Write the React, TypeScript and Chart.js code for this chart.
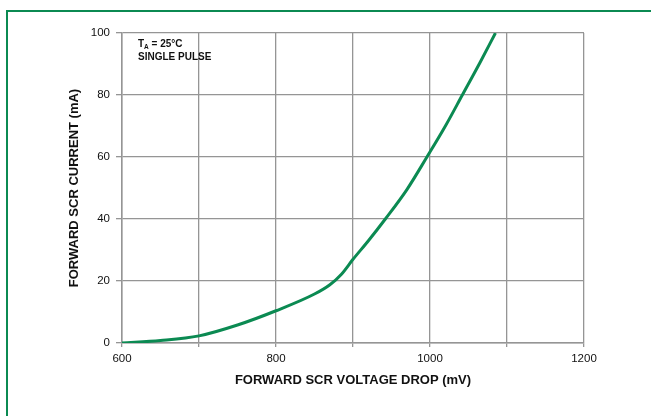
import React, { useEffect, useRef } from "react";
import { Chart, registerables } from "chart.js";

Chart.register(...registerables);

// Forward SCR voltage drop (mV) vs forward SCR current (mA)
const voltageMv = [600, 650, 700, 750, 800, 850, 870, 885, 900, 920, 942, 970, 996, 1020, 1042, 1065, 1085];
const currentMa = [0, 0.8, 2.3, 5.8, 10.4, 15.8, 18.8, 22.2, 27.0, 33.0, 40.0, 49.5, 60.0, 70.0, 80.0, 90.5, 100];
const xLabelValues = [600, 800, 1000, 1200];
const yLabelValues = [0, 20, 40, 60, 80, 100];
const noteLines = ["T", "SINGLE PULSE"];

const GREEN = "#0b8a52";
const GRID = "#959595";
const FONT = "'Liberation Sans', Arial, sans-serif";

const notePlugin = {
  id: "notePlugin",
  afterDraw(chart: any) {
    const { ctx, chartArea } = chart;
    ctx.save();
    ctx.fillStyle = "#111";
    ctx.textBaseline = "middle";
    ctx.textAlign = "left";
    const x0 = chartArea.left + 16;
    ctx.font = `bold 10px ${FONT}`;
    ctx.fillText(noteLines[0], x0, chartArea.top + 11);
    const tW = ctx.measureText(noteLines[0]).width;
    ctx.font = `bold 6.5px ${FONT}`;
    ctx.fillText("A", x0 + tW, chartArea.top + 14);
    const aW = ctx.measureText("A").width;
    ctx.font = `bold 10px ${FONT}`;
    ctx.fillText(" = 25°C", x0 + tW + aW, chartArea.top + 11);
    ctx.fillText(noteLines[1], x0, chartArea.top + 24);
    ctx.restore();
  },
};

export default function App() {
  const ref = useRef<HTMLCanvasElement>(null);
  useEffect(() => {
    if (!ref.current) return;
    const chart = new Chart(ref.current, {
      type: "line",
      data: {
        datasets: [
          {
            data: voltageMv.map((v, i) => ({ x: v, y: currentMa[i] })),
            borderColor: GREEN,
            borderWidth: 3,
            pointRadius: 0,
            cubicInterpolationMode: "monotone",
            fill: false,
          },
        ],
      },
      options: {
        animation: false,
        responsive: true,
        maintainAspectRatio: false,
        layout: { padding: { left: 0, right: 67, top: 33, bottom: 0 } },
        plugins: { legend: { display: false }, tooltip: { enabled: false } },
        scales: {
          x: {
            type: "linear",
            min: 600,
            max: 1200,
            afterFit: (s: any) => {
              s.height = 73;
            },
            border: { color: GRID, width: 1.5 },
            grid: { color: GRID, lineWidth: 1.3, tickLength: 4 },
            ticks: {
              stepSize: 100,
              padding: 5,
              color: "#111",
              font: { family: FONT, size: 11.5, lineHeight: 1.2 },
              callback: (v: any) => (xLabelValues.includes(Number(v)) ? String(v) : ""),
            },
            title: {
              display: true,
              text: "FORWARD SCR VOLTAGE DROP (mV)",
              color: "#111",
              font: { family: FONT, size: 13, weight: "bold", lineHeight: 1.2 },
              padding: { top: 0, bottom: 28 },
            },
          },
          y: {
            min: 0,
            max: 100,
            afterFit: (s: any) => {
              s.width = 122;
            },
            border: { color: GRID, width: 1.5 },
            grid: { color: GRID, lineWidth: 1.3, tickLength: 6 },
            ticks: {
              stepSize: 20,
              padding: 6,
              color: "#111",
              font: { family: FONT, size: 11.5, lineHeight: 1.2 },
              callback: (v: any) => (yLabelValues.includes(Number(v)) ? String(v) : ""),
            },
            title: {
              display: true,
              text: "FORWARD SCR CURRENT (mA)",
              color: "#111",
              font: { family: FONT, size: 13, weight: "bold", lineHeight: 1.2 },
              padding: { top: 67, bottom: 0 },
            },
          },
        },
      },
      plugins: [notePlugin],
    } as any);
    return () => chart.destroy();
  }, []);

  return (
    <div
      style={{
        position: "fixed",
        left: 0,
        top: 0,
        width: 651,
        height: 416,
        overflow: "hidden",
        background: "#fff",
      }}
    >
      <canvas ref={ref} style={{ position: "absolute", left: 0, top: 0 }} />
      <div
        style={{
          position: "absolute",
          left: 6,
          top: 10,
          width: 700,
          height: 500,
          borderTop: `2px solid ${GREEN}`,
          borderLeft: `2px solid ${GREEN}`,
          pointerEvents: "none",
        }}
      />
    </div>
  );
}
